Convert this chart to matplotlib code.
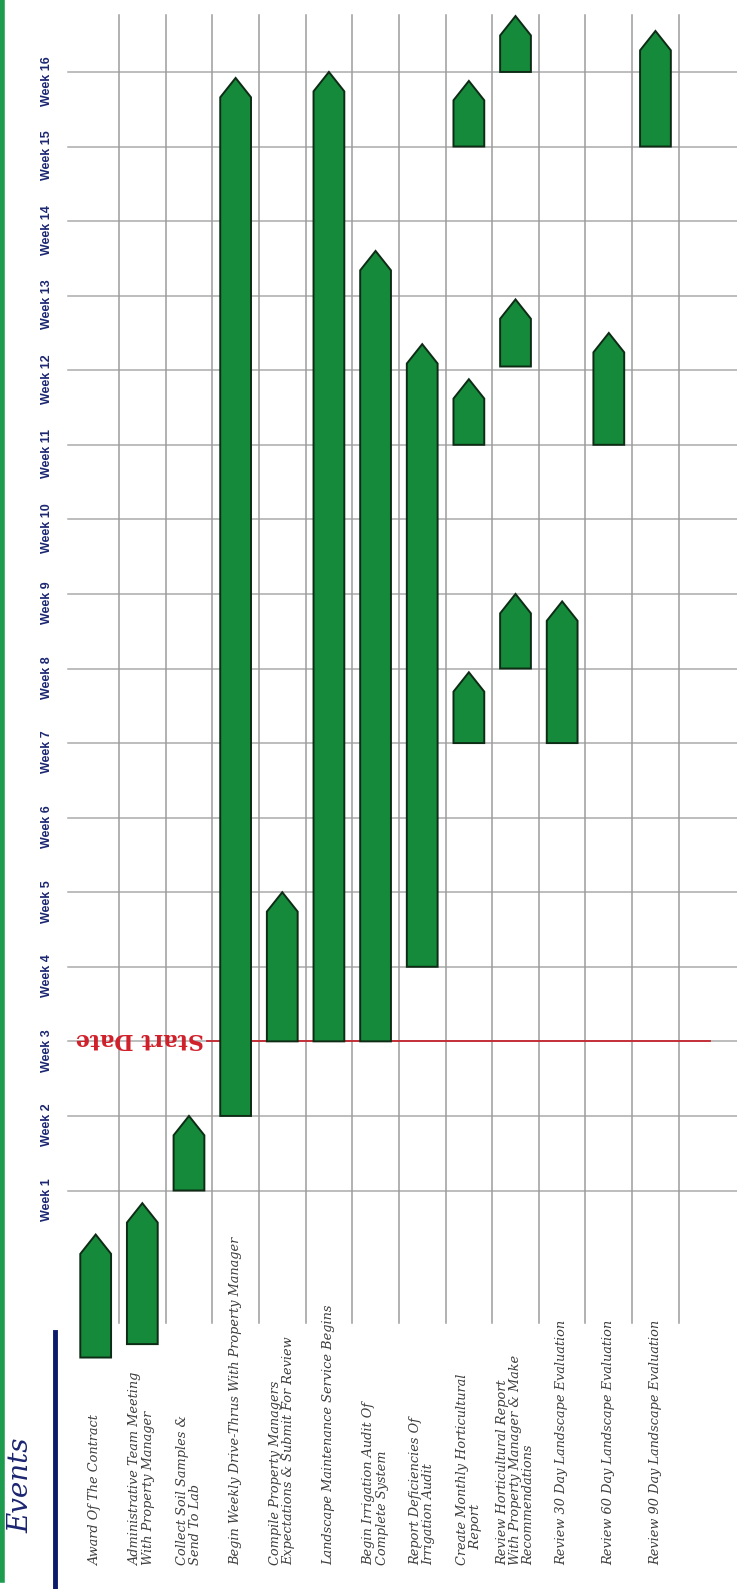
import numpy as np
import matplotlib.pyplot as plt
import matplotlib.transforms as mtransforms
from matplotlib.patches import Polygon
from matplotlib.lines import Line2D

events = [
    "Award Of The Contract",
    "Administrative Team Meeting\nWith Property Manager",
    "Collect Soil Samples &\nSend To Lab",
    "Begin Weekly Drive-Thrus With Property Manager",
    "Compile Property Managers\nExpectations & Submit For Review",
    "Landscape Maintenance Service Begins",
    "Begin Irrigation Audit Of\nComplete System",
    "Report Deficiencies Of\nIrrigation Audit",
    "Create Monthly Horticultural\n    Report",
    "Review Horticultural Report\nWith Property Manager & Make\nRecommendations",
    "Review 30 Day Landscape Evaluation",
    "Review 60 Day Landscape Evaluation",
    "Review 90 Day Landscape Evaluation",
]
weeks = list(range(1, 17))
week_labels = ["Week %d" % w for w in weeks]

# one entry per arrow: event row, start week, end week (tip of arrow)
seg_event = [0, 1, 2, 3, 4, 5, 6, 7, 8, 8, 8, 9, 9, 9, 10, 11, 12]
seg_start = [-1.24, -1.06, 1, 2, 3, 3, 3, 4, 7, 11, 15, 8, 12.05, 16, 7, 11, 15]
seg_end = [0.41, 0.83, 2, 15.92, 5, 16, 13.6, 12.35, 7.95, 11.88, 15.88,
           9, 12.95, 16.75, 8.9, 12.5, 16.55]
start_week = 3

W, H = 737, 1589
fig = plt.figure(figsize=(W / 100, H / 100), dpi=100)
ax = fig.add_axes([0, 0, 1, 1])
ax.set_xlim(-2.051, 13.748)
ax.set_ylim(-4.344, 16.965)
ax.axis('off')

# grid
for w in weeks:
    ax.axhline(w, xmin=68 / W, xmax=1, color='#ababab', lw=1.1, zorder=1)
for k in range(len(events)):
    ax.axvline(k + 0.5, ymin=(H - 1323) / H, ymax=(H - 15) / H,
               color='#9c9c9c', lw=1.1, zorder=1)

# arrows
half = 0.33
head = 0.26
for e, s, t in zip(seg_event, seg_start, seg_end):
    h = min(head, (t - s) * 0.5)
    pts = [(e - half, s), (e + half, s), (e + half, t - h), (e, t), (e - half, t - h)]
    ax.add_patch(Polygon(pts, closed=True, fc='#158a3a', ec='#0d2b15',
                         lw=1.4, zorder=3))

# start date marker
ax.axhline(start_week, xmin=207 / W, xmax=710 / W, color='#c4262e', lw=1.3, zorder=2)
tr_ax_data = mtransforms.blended_transform_factory(ax.transAxes, ax.transData)
ax.text(204 / W, start_week + 0.03, 'Start Date', transform=tr_ax_data, rotation=180,
        ha='right', va='center', fontsize=16, fontweight='bold',
        family='DejaVu Serif', color='#d0202a')

# week labels
for w, lab in zip(weeks, week_labels):
    ax.text(47 / W, w - 0.12, lab, transform=tr_ax_data, rotation=90,
            ha='center', va='center', fontsize=9, fontweight='bold',
            family='Liberation Sans', color='#1c2772')

# event labels
tr_data_ax = mtransforms.blended_transform_factory(ax.transData, ax.transAxes)
for i, lab in enumerate(events):
    ax.text(i, (H - 1565) / H, lab, transform=tr_data_ax, rotation=90,
            ha='center', va='bottom', multialignment='left', fontsize=9.3,
            style='italic', family='DejaVu Serif', color='#3d3d3d',
            linespacing=1.0)

fig.text(21 / W, 1 - 1485 / H, 'Events', rotation=90, ha='center', va='center',
         fontsize=20, style='italic', family='DejaVu Serif', color='#1b2470')

fig.add_artist(Line2D([55 / W, 55 / W], [0, 1 - 1332 / H], transform=fig.transFigure,
                      color='#0b1a6b', lw=3.5))
fig.add_artist(Line2D([2 / W, 2 / W], [1 - 1580 / H, 1], transform=fig.transFigure,
                      color='#1d9b4e', lw=4))

fig.savefig('out.png', dpi=100)
